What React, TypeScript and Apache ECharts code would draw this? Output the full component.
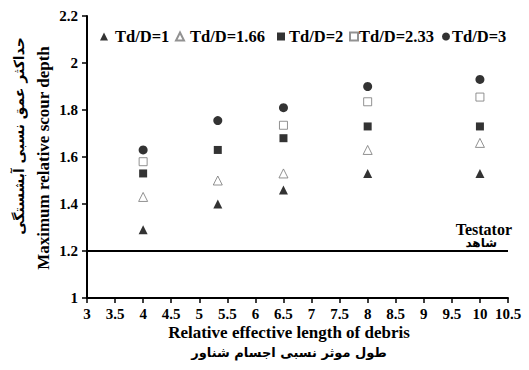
import React, { useEffect, useRef } from "react";
import * as echarts from "echarts";

const xValues = [4, 5.33, 6.5, 8, 10];
const td1 = [1.29, 1.4, 1.46, 1.53, 1.53];
const td166 = [1.43, 1.5, 1.53, 1.63, 1.66];
const td2 = [1.53, 1.63, 1.68, 1.73, 1.73];
const td233: (number | null)[] = [1.58, null, 1.735, 1.835, 1.855];
const td3 = [1.63, 1.755, 1.81, 1.9, 1.93];
const seriesNames = ["Td/D=1", "Td/D=1.66", "Td/D=2", "Td/D=2.33", "Td/D=3"];
const testatorValue = 1.2;
const xRange = [3, 10.5];

const serif = "Liberation Serif";
const persian = "DejaVu Sans";

// legend placement (layout only)
const legendLeft = [100, 175, 277, 349, 442];
const legendTextShift = [2, 1, -1, -4, -3];

export default function App() {
  const ref = useRef<HTMLDivElement>(null);
  useEffect(() => {
    if (!ref.current) return;
    const chart = echarts.init(ref.current, undefined, { renderer: "svg" });
    const pts = (arr: (number | null)[]) =>
      xValues.map((x, i) => (arr[i] == null ? null : [x, arr[i]])).filter((p) => p) as number[][];
    const mk = (name: string, data: (number | null)[], symbol: string, size: number, fill: string, stroke: string) => ({
      name,
      type: "scatter",
      data: pts(data),
      symbol,
      symbolSize: size,
      itemStyle: { color: fill, borderColor: stroke, borderWidth: fill === "#fff" ? 1 : 0 },
    });
    chart.setOption({
      animation: false,
      grid: { left: 87, right: 21, top: 16, bottom: 72 },
      legend: seriesNames.map((n, i) => ({
        top: 28,
        left: legendLeft[i],
        itemWidth: 8,
        itemHeight: 8,
        padding: 0,
        data: [n],
        textStyle: {
          fontFamily: serif,
          fontWeight: "bold",
          fontSize: 16.5,
          color: "#000",
          padding: [0, 0, 0, legendTextShift[i]],
        },
      })),
      xAxis: {
        type: "value",
        min: 3,
        max: 10.5,
        interval: 0.5,
        axisLine: { lineStyle: { color: "#000", width: 2 } },
        axisTick: { show: true, length: 5, lineStyle: { color: "#000", width: 1.5 } },
        splitLine: { show: false },
        axisLabel: { fontFamily: serif, fontWeight: "bold", fontSize: 15, color: "#000", margin: 8 },
      },
      yAxis: {
        type: "value",
        min: 1,
        max: 2.2,
        interval: 0.2,
        axisLine: { show: true, lineStyle: { color: "#000", width: 2 } },
        axisTick: { show: true, length: 5, lineStyle: { color: "#000", width: 1.5 } },
        splitLine: { show: false },
        axisLabel: {
          fontFamily: serif,
          fontWeight: "bold",
          fontSize: 15,
          color: "#000",
          margin: 9,
          formatter: (v: number) => String(Math.round(v * 10) / 10),
        },
      },
      series: [
        mk(seriesNames[0], td1, "triangle", 9, "#000", "#000"),
        mk(seriesNames[1], td166, "triangle", 9, "#fff", "#777"),
        mk(seriesNames[2], td2, "rect", 8, "#000", "#000"),
        mk(seriesNames[3], td233, "rect", 8, "#fff", "#777"),
        mk(seriesNames[4], td3, "circle", 9, "#000", "#000"),
        {
          name: "Testator",
          type: "line",
          data: [
            [xRange[0], testatorValue],
            [xRange[1], testatorValue],
          ],
          symbol: "none",
          lineStyle: { color: "#000", width: 2 },
          silent: true,
        },
      ],
      graphic: [
        {
          type: "text",
          x: 512,
          y: 229,
          style: { text: "Testator", fontFamily: serif, fontWeight: "bold", fontSize: 16, fill: "#000", align: "right", verticalAlign: "middle" },
        },
        {
          type: "text",
          x: 497,
          y: 243,
          style: { text: "شاهد", fontFamily: persian, fontWeight: "bold", fontSize: 12, fill: "#000", align: "right", verticalAlign: "middle" },
        },
        {
          type: "text",
          x: 289,
          y: 332,
          style: {
            text: "Relative effective length of debris",
            fontFamily: serif,
            fontWeight: "bold",
            fontSize: 17,
            fill: "#000",
            align: "center",
            verticalAlign: "middle",
          },
        },
        {
          type: "text",
          x: 289,
          y: 352,
          style: { text: "طول موثر نسبی اجسام شناور", fontFamily: persian, fontWeight: "bold", fontSize: 13, fill: "#000", align: "center", verticalAlign: "middle" },
        },
        {
          type: "text",
          x: 43,
          y: 158,
          rotation: Math.PI / 2,
          style: {
            text: "Maximum relative scour depth",
            fontFamily: serif,
            fontWeight: "bold",
            fontSize: 17,
            fill: "#000",
            align: "center",
            verticalAlign: "middle",
          },
        },
        {
          type: "text",
          x: 19,
          y: 136,
          rotation: Math.PI / 2,
          style: {
            text: "حداکثر عمق نسبی آبشستگی",
            fontFamily: persian,
            fontWeight: "bold",
            fontSize: 14,
            fill: "#000",
            align: "center",
            verticalAlign: "middle",
          },
        },
      ],
    });
    return () => chart.dispose();
  }, []);
  return <div ref={ref} style={{ width: 529, height: 370, position: "absolute", left: 0, top: 0 }} />;
}
